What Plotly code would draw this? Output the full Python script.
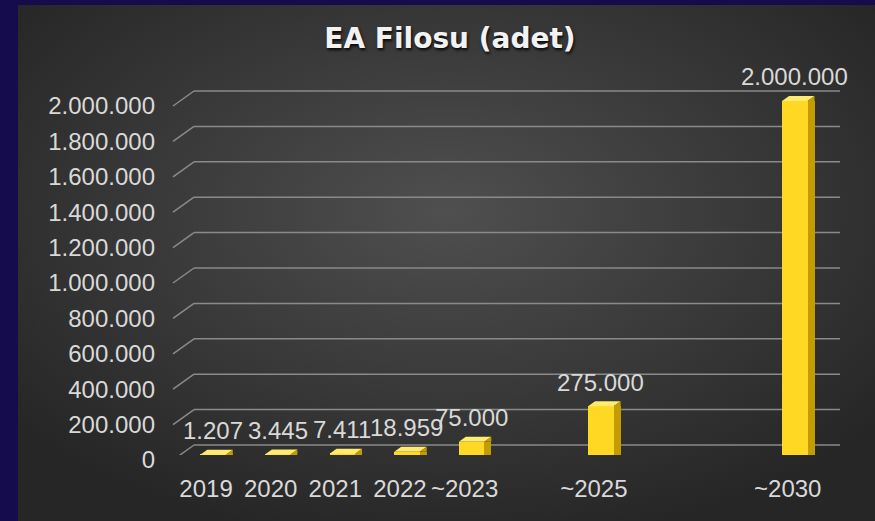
import base64
import plotly.graph_objects as go

# ---------------- data ----------------
categories = ["2019", "2020", "2021", "2022", "~2023", "~2025", "~2030"]
values = [1207, 3445, 7411, 18959, 75000, 275000, 2000000]
# axis slots (empty slots keep the original uneven spacing)
x_slots = ["2019", "2020", "2021", "2022", "~2023", "gap1", "~2025", "gap2", "gap3", "~2030"]
y_ticks = [0, 200000, 400000, 600000, 800000, 1000000, 1200000, 1400000,
           1600000, 1800000, 2000000]
title_text = "EA Filosu (adet)"

# ---------------- layout constants ----------------
W, H = 875, 521
ML, MR, MT, MB = 172, 35, 60, 66
PW = W - ML - MR
PH = H - MT - MB
FONT = "Liberation Sans, Arial, sans-serif"
TXT = "#D9D9D9"
FRONT = "#FFD824"
SIDE = "#C29C00"
TOP = "#FFEC6E"
GRID = "#8A8A8A"
BAR_W = 0.395      # in category units
SIDE_W = 0.108
HALF_PX = 12.75    # half bar width in pixels
DEPTH_X, DEPTH_Y = 7, 5
DIAG_DX, DIAG_FRONT, DIAG_BACK = 22, -5, 10


def px_x(p):
    return (p - ML) / PW


def px_y(p):
    return (H - MB - p) / PH


# background gradient as an svg image
svg = (
    '<svg xmlns="http://www.w3.org/2000/svg" width="857" height="516">'
    '<defs><radialGradient id="g" cx="50%" cy="40%" r="65%">'
    '<stop offset="0%" stop-color="#4f4f4f"/>'
    '<stop offset="100%" stop-color="#262626"/>'
    '</radialGradient></defs>'
    '<rect width="857" height="516" fill="url(#g)"/></svg>'
)
bg_src = "data:image/svg+xml;base64," + base64.b64encode(svg.encode()).decode()

fig = go.Figure()

# front faces
fig.add_trace(go.Bar(
    x=categories, y=values, width=BAR_W, offset=-BAR_W / 2,
    marker=dict(color=FRONT, line=dict(width=0)),
    hoverinfo="skip", showlegend=False,
))
# side faces
fig.add_trace(go.Bar(
    x=categories, y=values, width=SIDE_W, offset=BAR_W / 2,
    marker=dict(color=SIDE, line=dict(width=0)),
    hoverinfo="skip", showlegend=False,
))

shapes = []
# 3D-looking gridlines
for v in y_ticks:
    shapes.append(dict(
        type="path", xref="paper", yref="y", xsizemode="pixel", ysizemode="pixel",
        xanchor=0, yanchor=v,
        path=f"M 1,{DIAG_FRONT} L {DIAG_DX},{DIAG_BACK}",
        line=dict(color=GRID, width=1.5), layer="below",
    ))
    shapes.append(dict(
        type="line", xref="paper", yref="y", ysizemode="pixel", yanchor=v,
        x0=DIAG_DX / PW, x1=1, y0=DIAG_BACK, y1=DIAG_BACK,
        line=dict(color=GRID, width=1.5), layer="below",
    ))

# top faces of the bars
for c, v in zip(categories, values):
    xi = x_slots.index(c)
    shapes.append(dict(
        type="path", xref="x", yref="y", xsizemode="pixel", ysizemode="pixel",
        xanchor=xi, yanchor=v,
        path=(f"M {-HALF_PX},0 L {-HALF_PX + DEPTH_X},{DEPTH_Y} "
              f"L {HALF_PX + DEPTH_X},{DEPTH_Y} L {HALF_PX},0 Z"),
        fillcolor=TOP, line=dict(width=0), layer="above",
    ))
    shapes.append(dict(
        type="path", xref="x", yref="y", xsizemode="pixel", ysizemode="pixel",
        xanchor=xi, yanchor=v,
        path=f"M {HALF_PX},0 L {HALF_PX + DEPTH_X},{DEPTH_Y} L {HALF_PX + DEPTH_X},0 Z",
        fillcolor=SIDE, line=dict(width=0), layer="above",
    ))

annotations = []
for c, v in zip(categories, values):
    annotations.append(dict(
        x=x_slots.index(c), y=v, xref="x", yref="y",
        text=f"{v:,}".replace(",", "."), showarrow=False,
        yanchor="middle", yshift=24,
        font=dict(family=FONT, size=24, color=TXT),
    ))

fig.update_layout(
    width=W, height=H, autosize=False,
    margin=dict(l=ML, r=MR, t=MT, b=MB, pad=0),
    paper_bgcolor="#150c4e",
    plot_bgcolor="rgba(0,0,0,0)",
    separators=",.",
    barmode="overlay",
    bargap=0,
    showlegend=False,
    title=dict(
        text=f"<b>{title_text}</b>", x=450 / W, xanchor="center",
        y=1 - 38 / H, yanchor="middle", xref="container", yref="container",
        font=dict(family="DejaVu Sans, sans-serif", size=28, color="#F2F2F2",
                  shadow="1px 2px 3px rgba(0,0,0,0.9)"),
    ),
    xaxis=dict(
        type="category", categoryorder="array", categoryarray=x_slots,
        range=[-0.635, 9.70],
        tickmode="array", tickvals=categories, ticktext=categories,
        showgrid=False, zeroline=False, showline=False, ticks="",
        tickfont=dict(family=FONT, size=24, color=TXT),
        ticklabelshift=-7, ticklabelstandoff=17,
    ),
    yaxis=dict(
        range=[0, 2231600],
        tickmode="array", tickvals=y_ticks, tickformat=",d",
        showgrid=False, zeroline=False, showline=False, ticks="",
        tickfont=dict(family=FONT, size=24, color=TXT),
        ticklabelshift=5, ticklabelstandoff=16,
    ),
    shapes=shapes,
    annotations=annotations,
    images=[dict(
        source=bg_src, xref="paper", yref="paper",
        x=px_x(18), y=px_y(5), sizex=px_x(W) - px_x(18), sizey=px_y(5) - px_y(H),
        xanchor="left", yanchor="top", sizing="stretch", layer="below",
    )],
)

fig.write_html("out.html")
